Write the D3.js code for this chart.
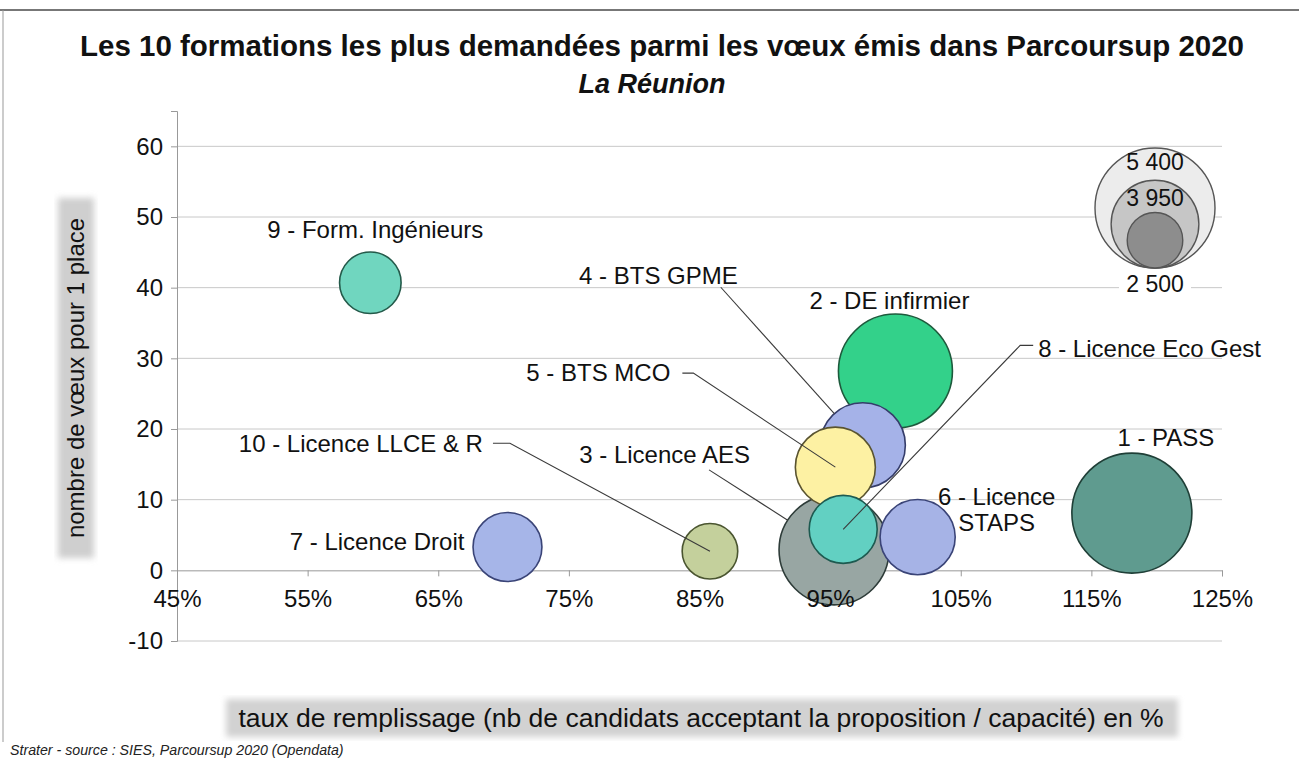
<!DOCTYPE html>
<html>
<head>
<meta charset="utf-8">
<script src="https://cdn.jsdelivr.net/npm/d3@7"></script>
<style>
  body { margin: 0; background: #fff; }
  svg { display: block; font-family: "Liberation Sans", Arial, sans-serif; }
</style>
</head>
<body>
<div id="chart"></div>
<script>
  // data
  const names = ["1 - PASS", "2 - DE infirmier", "3 - Licence AES", "4 - BTS GPME", "5 - BTS MCO",
    "6 - Licence STAPS", "7 - Licence Droit", "8 - Licence Eco Gest", "9 - Form. Ingénieurs", "10 - Licence LLCE & R"]
  const fillRate = [1.181, 1.000, 0.953, 0.975, 0.954, 1.017, 0.703, 0.960, 0.598, 0.858]
  const wishesPerPlace = [8.1, 28.2, 2.9, 17.7, 14.6, 4.7, 3.3, 5.8, 40.7, 2.7]
  const wishes = [5400, 5130, 4950, 3830, 3600, 3380, 3100, 3060, 2770, 2500]
  const xTicks = [0.45, 0.55, 0.65, 0.75, 0.85, 0.95, 1.05, 1.15, 1.25]
  const yTicks = [-10, 0, 10, 20, 30, 40, 50, 60]
  const legendValues = [5400, 3950, 2500]

  const fills = ["#5f9b8f", "#33d18a", "#98a6a3", "#a5b2e8", "#fdf1a3", "#a6b3e6", "#a6b5e8", "#62d0c2", "#70d6bf", "#c4d09c"]
  const strokes = ["#1f3f37", "#1d5a3c", "#2e3c39", "#353d6a", "#5a5430", "#3a4477", "#3a4477", "#1d5a50", "#245a4a", "#4a5530"]

  // label placement, pixels relative to bubble centre
  const labelLayout = [
    { dx: 34, dy: -75, anchor: "middle" },
    { dx: -6, dy: -70, anchor: "middle" },
    { dx: -84, dy: -95, anchor: "end", leader: [[-125, -80]], toEdge: true },
    { dx: -125, dy: -170, anchor: "end", leader: [[-142, -158]], toEdge: true },
    { dx: -165, dy: -95, anchor: "end", leader: [[-153, -94], [-142, -94]] },
    { dx: 79, dy: -41, anchor: "middle", lines: ["6 - Licence", "STAPS"] },
    { dx: -43, dy: -5, anchor: "end" },
    { dx: 195, dy: -181, anchor: "start", leader: [[190, -184], [177, -184]] },
    { dx: 113, dy: -53, anchor: "end" },
    { dx: -227, dy: -108, anchor: "end", leader: [[-217, -108], [-200, -108]] }
  ]

  const width = 1299, height = 760

  const svg = d3.select("#chart").append("svg")
    .attr("width", width)
    .attr("height", height)

  const x = d3.scaleLinear().domain([0.45, 1.25]).range([177, 1222])
  const y = d3.scaleLinear().domain([-10, 65]).range([641, 111])
  const r = d3.scaleLinear().domain([0, 5400]).range([0, 60])

  const defs = svg.append("defs")
  defs.append("filter").attr("id", "soft")
    .attr("x", "-10%").attr("y", "-10%").attr("width", "120%").attr("height", "120%")
    .append("feGaussianBlur").attr("stdDeviation", 3)

  // frame
  svg.append("line").attr("x1", 0).attr("x2", width).attr("y1", 10).attr("y2", 10)
    .attr("stroke", "#777").attr("stroke-width", 2)
  svg.append("line").attr("x1", 3).attr("x2", 3).attr("y1", 10).attr("y2", 742)
    .attr("stroke", "#999").attr("stroke-width", 1)

  // title
  svg.append("text")
    .attr("x", 662).attr("y", 56)
    .attr("text-anchor", "middle")
    .attr("font-size", 29.5).attr("font-weight", "bold")
    .attr("fill", "#111")
    .text("Les 10 formations les plus demandées parmi les vœux émis dans Parcoursup 2020")
  svg.append("text")
    .attr("x", 652).attr("y", 93)
    .attr("text-anchor", "middle")
    .attr("font-size", 27).attr("font-weight", "bold").attr("font-style", "italic")
    .attr("fill", "#111")
    .text("La Réunion")

  // gridlines
  svg.append("g")
    .selectAll("line")
    .data(yTicks.filter(d => d !== 0))
    .join("line")
    .attr("x1", x(0.45)).attr("x2", x(1.25))
    .attr("y1", d => y(d)).attr("y2", d => y(d))
    .attr("stroke", "#c8c8c8")

  // y axis
  const yAxis = svg.append("g")
    .attr("transform", `translate(${x(0.45)},0)`)
    .call(d3.axisLeft(y).tickValues(yTicks).tickSize(6).tickPadding(8).tickFormat(d => String(d)))
  yAxis.select(".domain").attr("stroke", "#999")
  yAxis.selectAll(".tick line").attr("stroke", "#999")
  yAxis.selectAll("text").attr("font-size", 24).attr("fill", "#111")
    .attr("font-family", "Liberation Sans, Arial, sans-serif")

  // x axis line and ticks (crosses at 0), labels drawn later over the bubbles
  const xAxisCall = d3.axisBottom(x).tickValues(xTicks).tickSize(6).tickPadding(14)
    .tickFormat(d => Math.round(d * 100) + "%")
  const xAxis = svg.append("g")
    .attr("transform", `translate(0,${y(0)})`)
    .call(xAxisCall)
  xAxis.select(".domain").attr("stroke", "#999")
  xAxis.selectAll(".tick line").attr("stroke", "#999")
  xAxis.selectAll("text").remove()

  // bubbles
  const bubbles = names.map((name, i) => ({
    name, i,
    cx: x(fillRate[i]),
    cy: y(wishesPerPlace[i]),
    r: r(wishes[i])
  }))

  svg.append("g")
    .selectAll("circle")
    .data(bubbles)
    .join("circle")
    .attr("cx", d => d.cx)
    .attr("cy", d => d.cy)
    .attr("r", d => d.r)
    .attr("fill", d => fills[d.i])
    .attr("stroke", d => strokes[d.i])
    .attr("stroke-width", 1.6)

  const xLabels = svg.append("g")
    .attr("transform", `translate(0,${y(0)})`)
    .call(xAxisCall)
  xLabels.select(".domain").remove()
  xLabels.selectAll(".tick line").remove()
  xLabels.selectAll("text").attr("font-size", 24).attr("fill", "#111")
    .attr("font-family", "Liberation Sans, Arial, sans-serif")

  // leader lines
  const line = d3.line()
  svg.append("g")
    .selectAll("path")
    .data(bubbles.filter(d => labelLayout[d.i].leader))
    .join("path")
    .attr("fill", "none")
    .attr("stroke", "#3a3a3a")
    .attr("stroke-width", 1.1)
    .attr("d", d => {
      const lay = labelLayout[d.i]
      const pts = lay.leader.map(p => [d.cx + p[0], d.cy + p[1]])
      const last = pts[pts.length - 1]
      let end = [d.cx, d.cy]
      if (lay.toEdge) {
        const vx = last[0] - d.cx, vy = last[1] - d.cy
        const len = Math.hypot(vx, vy)
        end = [d.cx + vx / len * d.r, d.cy + vy / len * d.r]
      }
      return line([...pts, end])
    })

  // bubble labels
  const labelG = svg.append("g")
    .attr("font-size", 24)
    .attr("fill", "#111")
  bubbles.forEach(d => {
    const lay = labelLayout[d.i]
    const lines = lay.lines || [d.name]
    lines.forEach((t, k) => {
      labelG.append("text")
        .attr("x", d.cx + lay.dx)
        .attr("y", d.cy + lay.dy + k * 26)
        .attr("dy", "0.35em")
        .attr("text-anchor", lay.anchor)
        .text(t)
    })
  })

  // size legend
  const legendCx = 1155, legendBottom = 268
  const legendFills = ["#ececec", "#c6c6c6", "#8d8d8d"]
  svg.append("g")
    .selectAll("circle")
    .data(legendValues)
    .join("circle")
    .attr("cx", legendCx)
    .attr("cy", d => legendBottom - r(d))
    .attr("r", d => r(d))
    .attr("fill", (d, i) => legendFills[i])
    .attr("stroke", "#555")
    .attr("stroke-width", 1.4)

  const fmt = v => d3.format(",")(v).replace(",", " ")
  svg.append("rect")
    .attr("x", legendCx - 36).attr("y", 272).attr("width", 72).attr("height", 24)
    .attr("fill", "#fff")
  svg.append("g")
    .attr("font-size", 23)
    .attr("fill", "#111")
    .attr("text-anchor", "middle")
    .selectAll("text")
    .data(legendValues)
    .join("text")
    .attr("x", legendCx)
    .attr("y", (d, i) => [162, 198, 284][i])
    .attr("dy", "0.35em")
    .text(d => fmt(d))

  // axis titles with grey shaded boxes
  svg.append("rect")
    .attr("x", 58).attr("y", 198).attr("width", 36).attr("height", 360)
    .attr("fill", "#cfcfcf").attr("filter", "url(#soft)")
  svg.append("text")
    .attr("transform", "translate(76,378) rotate(-90)")
    .attr("text-anchor", "middle")
    .attr("dy", "0.35em")
    .attr("font-size", 24)
    .attr("fill", "#111")
    .text("nombre de vœux pour 1 place")

  svg.append("rect")
    .attr("x", 226).attr("y", 699).attr("width", 952).attr("height", 38)
    .attr("fill", "#d2d2d2").attr("filter", "url(#soft)")
  svg.append("text")
    .attr("x", 701).attr("y", 718)
    .attr("text-anchor", "middle")
    .attr("dy", "0.35em")
    .attr("font-size", 26.5)
    .attr("fill", "#111")
    .text("taux de remplissage (nb de candidats acceptant la proposition / capacité) en %")

  // source
  svg.append("text")
    .attr("x", 10).attr("y", 755)
    .attr("font-size", 14.2)
    .attr("font-style", "italic")
    .attr("fill", "#222")
    .text("Strater - source : SIES, Parcoursup 2020 (Opendata)")
</script>
</body>
</html>
